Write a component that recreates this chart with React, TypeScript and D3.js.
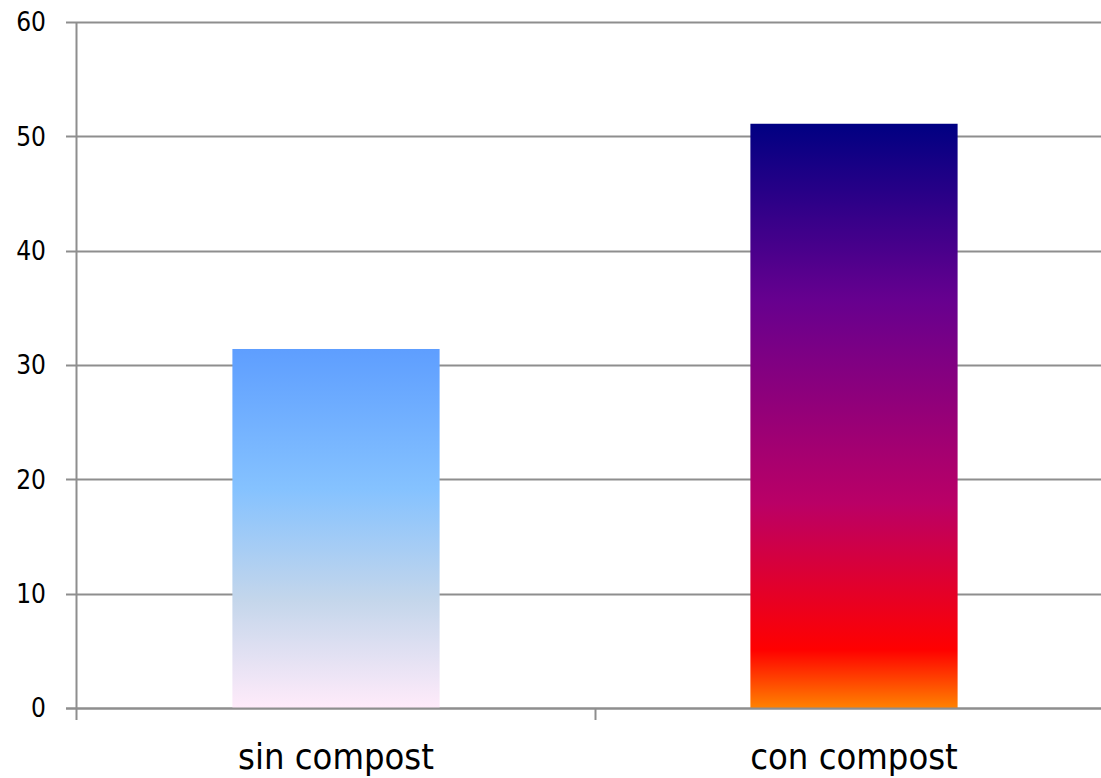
import React from "react";
import * as d3 from "d3";

// Chart data
const categories = ["sin compost", "con compost"];
const values = [31.4, 51.1];
const yTicks = [0, 10, 20, 30, 40, 50, 60];

// Vertical gradient stops per bar (offset from top of bar, colour)
const gradientStops: [number, string][][] = [
  [
    [0, "#5E9EFF"],
    [0.39, "#85C2FF"],
    [0.7, "#C4D6EB"],
    [1, "#FFEBFA"],
  ],
  [
    [0, "#000082"],
    [0.3, "#66008F"],
    [0.65, "#BA0066"],
    [0.9, "#FF0000"],
    [1, "#FF8200"],
  ],
];

const W = 1101;
const H = 778;
const FONT = "'DejaVu Sans Condensed', 'DejaVu Sans', sans-serif";

export default function App() {
  const axisX = 76.5;
  const gridStart = 66;
  const y = d3.scaleLinear().domain([0, 60]).range([708, 22]);
  const x = d3.scaleBand<string>().domain(categories).range([77, 1113]).padding(0);
  const bw = x.bandwidth() * 0.4;
  const gridColor = "#8E8E8E";

  return (
    <svg
      width={W}
      height={H}
      style={{ position: "absolute", left: 0, top: 0, background: "#fff" }}
    >
      <defs>
        {gradientStops.map((stops, i) => (
          <linearGradient key={i} id={`barGrad${i}`} x1="0" y1="0" x2="0" y2="1">
            {stops.map(([o, c], j) => (
              <stop key={j} offset={o} stopColor={c} />
            ))}
          </linearGradient>
        ))}
      </defs>

      {/* horizontal gridlines with left tick marks */}
      {yTicks.map((t) => (
        <line
          key={t}
          x1={gridStart}
          x2={W}
          y1={Math.round(y(t)) + 0.5}
          y2={Math.round(y(t)) + 0.5}
          stroke={gridColor}
          strokeWidth={2}
        />
      ))}

      {/* y tick labels */}
      {yTicks.map((t) => (
        <text
          key={`l${t}`}
          x={46}
          y={y(t)}
          dy="0.36em"
          textAnchor="end"
          fontFamily={FONT}
          fontSize={26}
          fill="#000"
        >
          {t}
        </text>
      ))}

      {/* bars */}
      {categories.map((c, i) => (
        <rect
          key={c}
          x={(x(c) as number) + (x.bandwidth() - bw) / 2}
          y={y(values[i])}
          width={bw}
          height={y(0) - y(values[i])}
          fill={`url(#barGrad${i})`}
        />
      ))}

      {/* y axis line */}
      <line x1={axisX} x2={axisX} y1={y(60)} y2={720} stroke={gridColor} strokeWidth={2} />

      {/* x axis line */}
      <line
        x1={gridStart}
        x2={W}
        y1={Math.round(y(0)) + 0.5}
        y2={Math.round(y(0)) + 0.5}
        stroke={gridColor}
        strokeWidth={2}
      />

      {/* category boundary ticks */}
      {categories.slice(1).map((c) => (
        <line
          key={`t${c}`}
          x1={(x(c) as number) + 0.5}
          x2={(x(c) as number) + 0.5}
          y1={y(0)}
          y2={720}
          stroke={gridColor}
          strokeWidth={2}
        />
      ))}

      {/* category labels */}
      {categories.map((c) => (
        <text
          key={`c${c}`}
          x={(x(c) as number) + x.bandwidth() / 2}
          y={769}
          textAnchor="middle"
          fontFamily={FONT}
          fontSize={36}
          fill="#000"
        >
          {c}
        </text>
      ))}
    </svg>
  );
}
